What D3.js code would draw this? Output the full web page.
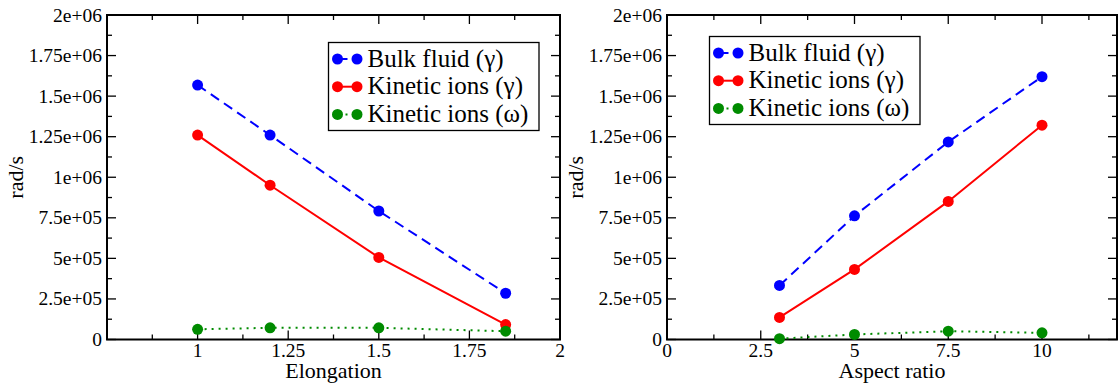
<!DOCTYPE html>
<html>
<head>
<meta charset="utf-8">
<script src="https://cdn.jsdelivr.net/npm/d3@7"></script>
<style>
  html, body { margin: 0; padding: 0; background: #fff; }
  svg { display: block; }
  text { font-family: "Liberation Serif", "Times New Roman", serif; fill: #000; }
</style>
</head>
<body>
<svg id="chart" width="1118" height="383"></svg>
<script>
// ---- Data ----
const seriesNames = ["Bulk fluid (\u03b3)", "Kinetic ions (\u03b3)", "Kinetic ions (\u03c9)"];

const elongation = [1, 1.2, 1.5, 1.85];
const elongBulk = [1568000, 1260000, 792000, 285000];
const elongKinGamma = [1260000, 951000, 506000, 92000];
const elongKinOmega = [63000, 72000, 72000, 51000];

const aspectRatio = [3, 5, 7.5, 10];
const aspectBulk = [333000, 762000, 1218000, 1620000];
const aspectKinGamma = [136000, 432000, 851000, 1321000];
const aspectKinOmega = [5000, 31000, 51000, 41000];

const yTickValues = [0, 250000, 500000, 750000, 1000000, 1250000, 1500000, 1750000, 2000000];
const yTickLabels = ["0", "2.5e+05", "5e+05", "7.5e+05", "1e+06", "1.25e+06", "1.5e+06", "1.75e+06", "2e+06"];
const elongTickValues = [1, 1.25, 1.5, 1.75, 2];
const elongTickLabels = ["1", "1.25", "1.5", "1.75", "2"];
const aspectTickValues = [0, 2.5, 5, 7.5, 10];
const aspectTickLabels = ["0", "2.5", "5", "7.5", "10"];

// ---- Styles ----
const colors = ["#0000ff", "#ff0000", "#008b00"];
const dashes = ["10,6", null, "2,5"];

const svg = d3.select("#chart");

function panel(cfg) {
  const g = svg.append("g");
  const x = d3.scaleLinear().domain(cfg.xDomain).range([cfg.left, cfg.right]);
  const y = d3.scaleLinear().domain([0, 2000000]).range([cfg.bottom, cfg.top]);

  const yMinor = d3.range(125000, 2000000, 250000);
  const xMinor = cfg.xMinor;

  // ticks (inward, on all four sides)
  const tickG = g.append("g").attr("stroke", "#000").attr("stroke-width", 1.3);
  const maj = 9, mnr = 5;
  yTickValues.forEach(v => {
    tickG.append("line").attr("x1", cfg.left).attr("x2", cfg.left + maj).attr("y1", y(v)).attr("y2", y(v));
    tickG.append("line").attr("x1", cfg.right).attr("x2", cfg.right - maj).attr("y1", y(v)).attr("y2", y(v));
  });
  yMinor.forEach(v => {
    tickG.append("line").attr("x1", cfg.left).attr("x2", cfg.left + mnr).attr("y1", y(v)).attr("y2", y(v));
    tickG.append("line").attr("x1", cfg.right).attr("x2", cfg.right - mnr).attr("y1", y(v)).attr("y2", y(v));
  });
  cfg.xMajor.forEach(v => {
    tickG.append("line").attr("x1", x(v)).attr("x2", x(v)).attr("y1", cfg.bottom).attr("y2", cfg.bottom - maj);
    tickG.append("line").attr("x1", x(v)).attr("x2", x(v)).attr("y1", cfg.top).attr("y2", cfg.top + maj);
  });
  xMinor.forEach(v => {
    tickG.append("line").attr("x1", x(v)).attr("x2", x(v)).attr("y1", cfg.bottom).attr("y2", cfg.bottom - mnr);
    tickG.append("line").attr("x1", x(v)).attr("x2", x(v)).attr("y1", cfg.top).attr("y2", cfg.top + mnr);
  });

  // frame
  g.append("rect")
    .attr("x", cfg.left).attr("y", cfg.top)
    .attr("width", cfg.right - cfg.left).attr("height", cfg.bottom - cfg.top)
    .attr("fill", "none").attr("stroke", "#000").attr("stroke-width", 2);

  // y tick labels
  yTickValues.forEach((v, i) => {
    g.append("text").attr("x", cfg.left - 5).attr("y", y(v) + 6.5)
      .attr("text-anchor", "end").attr("font-size", 19.5).text(yTickLabels[i]);
  });
  // x tick labels
  cfg.xTickValues.forEach((v, i) => {
    g.append("text").attr("x", x(v)).attr("y", 357)
      .attr("text-anchor", "middle").attr("font-size", 19.5).text(cfg.xTickLabels[i]);
  });

  // axis titles
  g.append("text").attr("x", (cfg.left + cfg.right) / 2).attr("y", 378)
    .attr("text-anchor", "middle").attr("font-size", 22).text(cfg.xTitle);
  g.append("text")
    .attr("transform", `translate(${cfg.yTitleX},${(cfg.top + cfg.bottom) / 2}) rotate(-90)`)
    .attr("text-anchor", "middle").attr("font-size", 22).text("rad/s");

  // series
  const line = d3.line().x(d => x(d[0])).y(d => y(d[1]));
  cfg.series.forEach((vals, si) => {
    const pts = cfg.xs.map((xv, i) => [xv, vals[i]]);
    const path = g.append("path").datum(pts).attr("d", line)
      .attr("fill", "none").attr("stroke", colors[si]).attr("stroke-width", 2);
    if (dashes[si]) path.attr("stroke-dasharray", dashes[si]);
  });
  cfg.series.forEach((vals, si) => {
    const pts = cfg.xs.map((xv, i) => [xv, vals[i]]);
    g.selectAll(null).data(pts).enter().append("circle")
      .attr("cx", d => x(d[0])).attr("cy", d => y(d[1])).attr("r", 5.5)
      .attr("fill", colors[si]);
  });

  // legend
  const L = cfg.legend;
  const lg = g.append("g");
  lg.append("rect").attr("x", L.x).attr("y", L.y).attr("width", 210.5).attr("height", 88)
    .attr("fill", "#fff").attr("stroke", "#000").attr("stroke-width", 1.3);
  seriesNames.forEach((name, si) => {
    const cy = L.y + 16.5 + si * 27.7;
    const x1 = L.x + 9, x2 = L.x + 28.5;
    const ln = lg.append("line").attr("x1", x1).attr("x2", x2).attr("y1", cy).attr("y2", cy)
      .attr("stroke", colors[si]).attr("stroke-width", 2);
    if (si === 0) ln.attr("stroke-dasharray", "10,6");
    if (si === 2) ln.attr("stroke-dasharray", "2,5").attr("stroke-dashoffset", -8);
    lg.append("circle").attr("cx", x1).attr("cy", cy).attr("r", 5.5).attr("fill", colors[si]);
    lg.append("circle").attr("cx", x2).attr("cy", cy).attr("r", 5.5).attr("fill", colors[si]);
    lg.append("text").attr("x", L.x + 39).attr("y", cy + 7.5).attr("font-size", 25).text(name);
  });
}

panel({
  left: 107, right: 560, top: 15, bottom: 339.5,
  xDomain: [0.75, 2],
  xMajor: [1, 1.25, 1.5, 1.75],
  xMinor: [0.875, 1.125, 1.375, 1.625, 1.875],
  xTickValues: elongTickValues, xTickLabels: elongTickLabels,
  xTitle: "Elongation", yTitleX: 23,
  xs: elongation,
  series: [elongBulk, elongKinGamma, elongKinOmega],
  legend: { x: 328.5, y: 42.5 }
});

panel({
  left: 667, right: 1117, top: 15, bottom: 339.5,
  xDomain: [0, 12],
  xMajor: [2.5, 5, 7.5, 10],
  xMinor: [1.25, 3.75, 6.25, 8.75, 11.25],
  xTickValues: aspectTickValues, xTickLabels: aspectTickLabels,
  xTitle: "Aspect ratio", yTitleX: 583,
  xs: aspectRatio,
  series: [aspectBulk, aspectKinGamma, aspectKinOmega],
  legend: { x: 709.5, y: 36.5 }
});
</script>
</body>
</html>
